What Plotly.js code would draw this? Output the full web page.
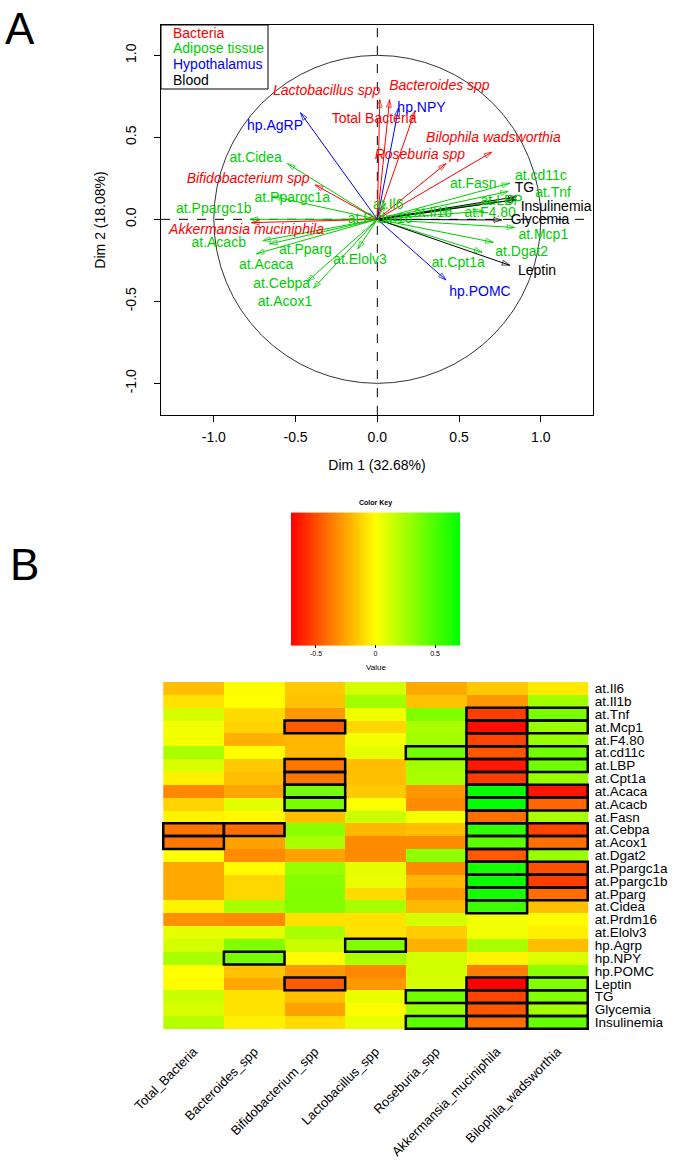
<!DOCTYPE html>
<html><head><meta charset="utf-8">
<script src="https://cdn.plot.ly/plotly-3.0.1.min.js"></script>
<style>body{margin:0;background:#fff}#plot{width:675px;height:1162px}</style>
</head><body><div id="plot"></div>
<script>
// ---------- Panel A: PCA correlation circle ----------
const bactLabels = ['<i>Lactobacillus spp</i>','<i>Bacteroides spp</i>','Total Bacteria','<i>Roseburia spp</i>','<i>Bilophila wadsworthia</i>','<i>Bifidobacterium spp</i>','<i>Akkermansia muciniphila</i>'];
const bactX = [0.015, 0.075, 0.23, 0.42, 0.70, -0.38, -0.77];
const bactY = [0.73, 0.73, 0.66, 0.34, 0.41, 0.21, -0.02];
const bactLabX = [-0.31, 0.38, -0.02, 0.26, 0.71, -0.79, -0.80];
const bactLabY = [0.78, 0.81, 0.61, 0.39, 0.49, 0.24, -0.065];

const atLabels = ['at.Cidea','at.Ppargc1a','at.Ppargc1b','at.Acacb','at.Pparg','at.Acaca','at.Elolv3','at.Cebpa','at.Acox1','at.Il6','at.Prdm16','at.Il1b','at.F4.80','at.LBP','at.Fasn','at.cd11c','at.Tnf','at.Mcp1','at.Dgat2','at.Cpt1a'];
const atX = [-0.55, -0.64, -0.78, -0.70, -0.66, -0.74, -0.12, -0.39, -0.43, 0.05, 0.05, 0.45, 0.65, 0.73, 0.81, 0.80, 0.84, 0.84, 0.71, 0.64];
const atY = [0.34, 0.14, 0.00, -0.13, -0.15, -0.21, -0.18, -0.42, -0.38, 0.10, -0.02, 0.06, 0.05, 0.11, 0.22, 0.17, 0.12, -0.05, -0.14, -0.20];
const atLabX = [-0.744, -0.52, -1.0, -0.97, -0.44, -0.68, -0.106, -0.585, -0.565, 0.067, 0.016, 0.34, 0.69, 0.76, 0.587, 1.0, 1.075, 1.015, 0.883, 0.495];
const atLabY = [0.37, 0.128, 0.061, -0.15, -0.19, -0.28, -0.25, -0.40, -0.51, 0.087, 0.0, 0.036, 0.036, 0.107, 0.215, 0.26, 0.16, -0.096, -0.20, -0.27];

const hpLabels = ['hp.AgRP','hp.NPY','hp.POMC'];
const hpX = [-0.47, 0.13, 0.42];
const hpY = [0.65, 0.68, -0.37];
const hpLabX = [-0.626, 0.27, 0.628];
const hpLabY = [0.565, 0.677, -0.443];

const bloodLabels = ['TG','Insulinemia','Glycemia','Leptin'];
const bloodX = [0.85, 0.85, 0.76, 0.81];
const bloodY = [0.138, 0.12, -0.004, -0.28];
const bloodLabX = [0.90, 1.093, 0.995, 0.977];
const bloodLabY = [0.19, 0.075, -0.01, -0.32];

const groupNames = ['Bacteria','Adipose tissue','Hypothalamus','Blood'];
const groupColors = ['#FF0000','#00CD00','#0000FF','#000000'];

// ---------- Panel B: heatmap ----------
const bacteria = ['Total_Bacteria','Bacteroides_spp','Bifidobacterium_spp','Lactobacillus_spp','Roseburia_spp','Akkermansia_muciniphila','Bilophila_wadsworthia'];
const hostVars = ['at.Il6','at.Il1b','at.Tnf','at.Mcp1','at.F4.80','at.cd11c','at.LBP','at.Cpt1a','at.Acaca','at.Acacb','at.Fasn','at.Cebpa','at.Acox1','at.Dgat2','at.Ppargc1a','at.Ppargc1b','at.Pparg','at.Cidea','at.Prdm16','at.Elolv3','hp.Agrp','hp.NPY','hp.POMC','Leptin','TG','Glycemia','Insulinemia'];
const corr = [
 [-0.18, -0.01, -0.15,  0.12, -0.24, -0.15, -0.06],
 [-0.08,  0.00, -0.17,  0.26, -0.17, -0.29,  0.26],
 [ 0.12, -0.10, -0.29,  0.04,  0.35, -0.54,  0.38],
 [ 0.04, -0.12, -0.46, -0.11,  0.24, -0.68,  0.29],
 [ 0.03, -0.22, -0.20,  0.03,  0.26, -0.52,  0.29],
 [ 0.24,  0.00, -0.20,  0.07,  0.40, -0.47,  0.40],
 [ 0.11, -0.15, -0.38, -0.18,  0.26, -0.64,  0.40],
 [-0.04, -0.18, -0.38, -0.18,  0.24, -0.54,  0.29],
 [-0.33, -0.25,  0.38, -0.15, -0.29,  0.69, -0.65],
 [-0.12,  0.08,  0.38,  0.01, -0.32,  0.70, -0.43],
 [-0.03, -0.02, -0.18,  0.15,  0.03, -0.40,  0.24],
 [-0.38, -0.40,  0.32, -0.20, -0.18,  0.57, -0.52],
 [-0.38, -0.26,  0.24, -0.32, -0.32,  0.46, -0.40],
 [ 0.00, -0.32, -0.26, -0.32,  0.32, -0.46,  0.29],
 [-0.24, -0.01,  0.29,  0.07, -0.32,  0.65, -0.49],
 [-0.24, -0.11,  0.33,  0.06, -0.20,  0.68, -0.54],
 [-0.24, -0.11,  0.35, -0.10, -0.28,  0.65, -0.40],
 [-0.03,  0.24,  0.35,  0.24, -0.20,  0.54, -0.18],
 [-0.31, -0.32, -0.08, -0.08,  0.12,  0.04, -0.01],
 [ 0.07,  0.07,  0.24, -0.08, -0.14,  0.04, -0.04],
 [ 0.12,  0.35,  0.15,  0.35, -0.22,  0.24, -0.18],
 [ 0.24,  0.38, -0.01,  0.24,  0.12, -0.03,  0.10],
 [ 0.00, -0.17, -0.29, -0.33,  0.12, -0.36,  0.32],
 [-0.01, -0.24, -0.46, -0.29,  0.12, -0.71,  0.35],
 [ 0.15, -0.08, -0.18,  0.06,  0.40, -0.52,  0.35],
 [ 0.11, -0.08, -0.26, -0.01,  0.28, -0.47,  0.26],
 [ 0.20, -0.04, -0.10,  0.06,  0.46, -0.40,  0.43]
];
const signif = [
 [0,0,0,0,0,0,0],
 [0,0,0,0,0,0,0],
 [0,0,0,0,0,1,1],
 [0,0,1,0,0,1,1],
 [0,0,0,0,0,1,0],
 [0,0,0,0,1,1,1],
 [0,0,1,0,0,1,1],
 [0,0,1,0,0,1,0],
 [0,0,1,0,0,1,1],
 [0,0,1,0,0,1,1],
 [0,0,0,0,0,1,0],
 [1,1,0,0,0,1,1],
 [1,0,0,0,0,1,1],
 [0,0,0,0,0,1,0],
 [0,0,0,0,0,1,1],
 [0,0,0,0,0,1,1],
 [0,0,0,0,0,1,1],
 [0,0,0,0,0,1,0],
 [0,0,0,0,0,0,0],
 [0,0,0,0,0,0,0],
 [0,0,0,1,0,0,0],
 [0,1,0,0,0,0,0],
 [0,0,0,0,0,0,0],
 [0,0,1,0,0,1,1],
 [0,0,0,0,1,1,1],
 [0,0,0,0,0,1,1],
 [0,0,0,0,1,1,1]
];

// ---------- build ----------
const FONT = 'Liberation Sans, Arial, sans-serif';
function arrowTrace(xs, ys, color){
  const X=[],Y=[],S=[];
  xs.forEach((x,i)=>{X.push(0,x,null);Y.push(0,ys[i],null);S.push(0,8,0);});
  return {type:'scatter',mode:'lines+markers',x:X,y:Y,xaxis:'x',yaxis:'y',
    line:{color:color,width:1},
    marker:{symbol:'arrow-open',size:S,angleref:'previous',color:color,line:{color:color,width:1}},
    hoverinfo:'skip',showlegend:false};
}
function labelTrace(xs, ys, texts, color){
  return {type:'scatter',mode:'text',x:xs,y:ys,text:texts,xaxis:'x',yaxis:'y',
    textposition:'middle center',textfont:{family:FONT,size:14,color:color},
    hoverinfo:'skip',showlegend:false};
}
const traces = [
  arrowTrace(atX, atY, groupColors[1]),
  arrowTrace(bactX, bactY, groupColors[0]),
  arrowTrace(hpX, hpY, groupColors[2]),
  arrowTrace(bloodX, bloodY, groupColors[3]),
  labelTrace(atLabX, atLabY, atLabels, groupColors[1]),
  labelTrace(bactLabX, bactLabY, bactLabels, groupColors[0]),
  labelTrace(hpLabX, hpLabY, hpLabels, groupColors[2]),
  labelTrace(bloodLabX, bloodLabY, bloodLabels, groupColors[3]),
  {type:'heatmap',x:bacteria,y:hostVars,z:corr,xaxis:'x2',yaxis:'y2',
   zmin:-0.71,zmax:0.71,
   colorscale:[[0,'#FF0000'],[0.5,'#FFFF00'],[1,'#00FF00']],
   hoverinfo:'skip',
   colorbar:{orientation:'h',x:375.5/675,xanchor:'center',y:1-658/1162,yanchor:'bottom',
     len:169,lenmode:'pixels',thickness:133,thicknessmode:'pixels',outlinewidth:0,xpad:0,ypad:0,
     tickvals:[-0.5,0,0.5],ticktext:['-0.5','0','0.5'],ticks:'outside',ticklen:3,tickcolor:'#000',
     tickfont:{family:FONT,size:7,color:'#000'}}}
];

const shapes = [
  {type:'circle',xref:'x',yref:'y',x0:-1,y0:-1,x1:1,y1:1,line:{color:'#333',width:1},layer:'below'},
  {type:'line',xref:'x',yref:'y domain',x0:0,x1:0,y0:0,y1:1,line:{color:'#000',width:1,dash:'dash'},layer:'below'},
  {type:'line',xref:'x domain',yref:'y',x0:0,x1:1,y0:0,y1:0,line:{color:'#000',width:1,dash:'dash'},layer:'below'},
  // legend frame
  {type:'rect',xref:'paper',yref:'paper',x0:161/675,x1:268/675,y0:1-89/1162,y1:1-25/1162,line:{color:'#000',width:1},fillcolor:'#fff'}
];
signif.forEach((row,i)=>row.forEach((s,j)=>{
  if(s) shapes.push({type:'rect',xref:'x2',yref:'y2',x0:j-0.5,x1:j+0.5,y0:i-0.5,y1:i+0.5,
    line:{color:'#000',width:2.5},fillcolor:'rgba(0,0,0,0)'});
}));

const legendRowsY = [33.5, 48.5, 64, 80];
const annotations = groupNames.map((g,i)=>({text:g,xref:'paper',yref:'paper',x:171/675,y:1-legendRowsY[i]/1162,
  xanchor:'left',yanchor:'middle',showarrow:false,font:{family:FONT,size:14,color:groupColors[i]}}));
annotations.push(
  {text:'A',xref:'paper',yref:'paper',x:3/675,y:1-2/1162,xanchor:'left',yanchor:'top',showarrow:false,
   font:{family:FONT,size:44,color:'#000'}},
  {text:'B',xref:'paper',yref:'paper',x:8/675,y:1-538/1162,xanchor:'left',yanchor:'top',showarrow:false,
   font:{family:FONT,size:44,color:'#000'}},
  {text:'<b>Color Key</b>',xref:'paper',yref:'paper',x:375.5/675,y:1-503/1162,xanchor:'center',yanchor:'middle',showarrow:false,
   font:{family:FONT,size:7,color:'#000'}},
  {text:'Value',xref:'paper',yref:'paper',x:375.5/675,y:1-667/1162,xanchor:'center',yanchor:'middle',showarrow:false,
   font:{family:FONT,size:8,color:'#000'}}
);

const layout = {
  width:675,height:1162,margin:{l:0,r:0,t:0,b:0},
  paper_bgcolor:'#fff',plot_bgcolor:'#fff',
  font:{family:FONT,color:'#000',size:14},
  showlegend:false,
  xaxis:{domain:[161/675,593/675],range:[-1.323,1.319],anchor:'y',
    showgrid:false,zeroline:false,showline:true,mirror:true,linecolor:'#000',linewidth:1,
    ticks:'outside',ticklen:6,tickcolor:'#000',tickvals:[-1,-0.5,0,0.5,1],ticktext:['-1.0','-0.5','0.0','0.5','1.0'],
    ticklabelstandoff:3,tickfont:{family:FONT,size:14,color:'#000'},
    title:{text:'Dim 1 (32.68%)',font:{family:FONT,size:14,color:'#000'},standoff:16}},
  yaxis:{domain:[1-415/1162,1-25/1162],range:[-1.193,1.185],anchor:'x',
    showgrid:false,zeroline:false,showline:true,mirror:true,linecolor:'#000',linewidth:1,
    ticks:'outside',ticklen:6,tickcolor:'#000',tickvals:[-1,-0.5,0,0.5,1],ticktext:['-1.0','-0.5','0.0','0.5','1.0'],
    tickangle:-90,ticklabelstandoff:12,tickfont:{family:FONT,size:14,color:'#000'},
    title:{text:'Dim 2 (18.08%)',font:{family:FONT,size:14,color:'#000'},standoff:14}},
  xaxis2:{domain:[162/675,589/675],anchor:'y2',type:'category',
    showgrid:false,zeroline:false,showline:false,tickangle:-45,
    ticks:'outside',ticklen:8,tickcolor:'rgba(0,0,0,0)',
    tickfont:{family:FONT,size:13,color:'#000'}},
  yaxis2:{domain:[1-1030/1162,1-682/1162],anchor:'x2',type:'category',side:'right',
    autorange:'reversed',showgrid:false,zeroline:false,showline:false,dtick:1,
    ticks:'outside',ticklen:2,tickcolor:'rgba(0,0,0,0)',
    tickfont:{family:FONT,size:13.5,color:'#000'}},
  shapes:shapes,
  annotations:annotations
};
Plotly.newPlot('plot',traces,layout,{staticPlot:true,displayModeBar:false});
</script></body></html>
